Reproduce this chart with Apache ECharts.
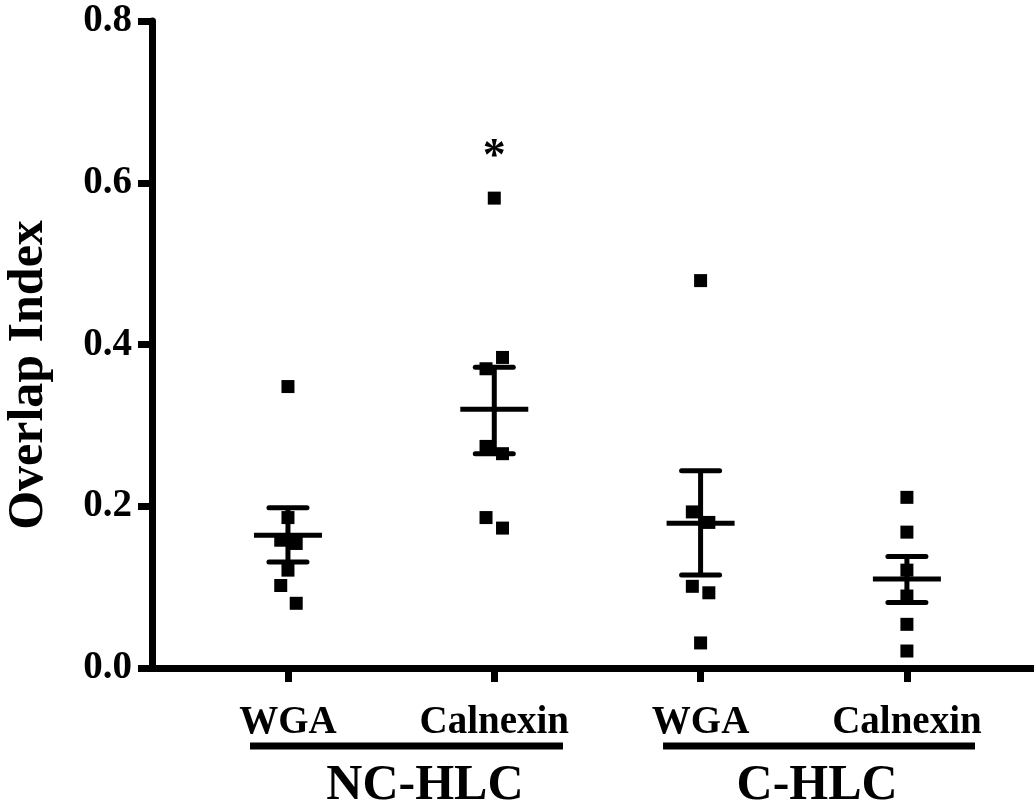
<!DOCTYPE html>
<html>
<head>
<meta charset="utf-8">
<script src="https://cdn.jsdelivr.net/npm/echarts@6/dist/echarts.min.js"></script>
<style>html,body{margin:0;padding:0;background:#fff}#c{width:1034px;height:800px}</style>
</head>
<body>
<div id="c"></div>
<script>
// ---- data ----
const categories = ['WGA', 'Calnexin', 'WGA', 'Calnexin'];
const yTicks = [0, 0.2, 0.4, 0.6, 0.8];
const ncWgaValues = [0.348, 0.186, 0.158, 0.154, 0.121, 0.102, 0.080];
const ncWgaJitter = [0, 0, -0.035, 0.04, 0, -0.035, 0.04];
const ncCalValues = [0.581, 0.384, 0.370, 0.274, 0.265, 0.186, 0.173];
const ncCalJitter = [0, 0.04, -0.04, -0.04, 0.04, -0.04, 0.04];
const cWgaValues = [0.479, 0.193, 0.180, 0.101, 0.093, 0.031];
const cWgaJitter = [0, -0.04, 0.04, -0.04, 0.04, 0];
const cCalValues = [0.211, 0.168, 0.121, 0.089, 0.054, 0.021];
const cCalJitter = [0, 0, 0, 0, 0, 0];
const means = [0.164, 0.320, 0.179, 0.110];
const errLower = [0.131, 0.265, 0.115, 0.081];
const errUpper = [0.198, 0.372, 0.244, 0.138];
const groupNames = ['NC-HLC', 'C-HLC'];
const groupSpans = [[0.816, 2.333], [2.818, 4.33]];
const groupLabelX = [1.664, 3.565];
const significance = [{ x: 2, y: 0.64, text: '*' }];
const yTitle = 'Overlap Index';

// ---- build ----
const FONT = '"Liberation Serif", "Times New Roman", serif';
const allVals = [ncWgaValues, ncCalValues, cWgaValues, cCalValues];
const allJit = [ncWgaJitter, ncCalJitter, cWgaJitter, cCalJitter];
const scatterData = [];
allVals.forEach((vals, gi) => vals.forEach((v, i) => scatterData.push([gi + 1 + allJit[gi][i], v])));
const errData = means.map((m, i) => [i + 1, m, errLower[i], errUpper[i]]);
const groupData = groupNames.map((g, i) => [groupSpans[i][0], groupSpans[i][1], groupLabelX[i]]);

const chart = echarts.init(document.getElementById('c'));
chart.setOption({
  animation: false,
  backgroundColor: '#fff',
  grid: { left: 152, right: 0, top: 21, bottom: 132, containLabel: false, outerBoundsMode: 'none' },
  graphic: [{
    type: 'text', x: 29, y: 375, rotation: Math.PI / 2,
    style: { text: yTitle, fill: '#000', font: 'bold 50px ' + FONT, align: 'center', verticalAlign: 'middle' }
  }],
  xAxis: {
    type: 'value', min: 0.341, max: 4.616,
    splitLine: { show: false },
    axisLine: { show: true, onZero: false, lineStyle: { color: '#000', width: 7 } },
    axisTick: { show: true, customValues: [1, 2, 3, 4], length: 14, lineStyle: { color: '#000', width: 7 } },
    axisLabel: {
      show: true, customValues: [1, 2, 3, 4], margin: 35,
      formatter: v => categories[Math.round(v) - 1],
      color: '#000', fontFamily: FONT, fontWeight: 'bold', fontSize: 39
    }
  },
  yAxis: {
    type: 'value', min: 0, max: 0.8, interval: 0.2,
    splitLine: { show: false },
    axisLine: { show: true, lineStyle: { color: '#000', width: 7 } },
    axisTick: { show: true, length: 14, lineStyle: { color: '#000', width: 7 } },
    axisLabel: {
      margin: 20, color: '#000', fontFamily: FONT, fontWeight: 'bold', fontSize: 39,
      formatter: v => v.toFixed(1)
    }
  },
  series: [
    {
      type: 'scatter', data: scatterData, symbol: 'rect', symbolSize: 13,
      itemStyle: { color: '#000', opacity: 1 }, z: 3
    },
    {
      type: 'custom', data: errData, z: 4, clip: false,
      renderItem: function (params, api) {
        const x = api.value(0);
        const pm = api.coord([x, api.value(1)]);
        const pl = api.coord([x, api.value(2)]);
        const ph = api.coord([x, api.value(3)]);
        const st = { stroke: '#000', lineWidth: 5, lineCap: 'round' };
        return {
          type: 'group', children: [
            { type: 'line', shape: { x1: pl[0], y1: pl[1], x2: ph[0], y2: ph[1] }, style: { stroke: '#000', lineWidth: 5 } },
            { type: 'line', shape: { x1: pl[0] - 19, y1: pl[1], x2: pl[0] + 19, y2: pl[1] }, style: st },
            { type: 'line', shape: { x1: ph[0] - 19, y1: ph[1], x2: ph[0] + 19, y2: ph[1] }, style: st },
            { type: 'line', shape: { x1: pm[0] - 34, y1: pm[1], x2: pm[0] + 34, y2: pm[1] }, style: { stroke: '#000', lineWidth: 5 } }
          ]
        };
      }
    },
    {
      type: 'custom', data: groupData, z: 5, clip: false,
      renderItem: function (params, api) {
        const a = api.coord([api.value(0), 0]);
        const b = api.coord([api.value(1), 0]);
        const t = api.coord([api.value(2), 0]);
        return {
          type: 'group', children: [
            { type: 'line', shape: { x1: a[0], y1: a[1] + 78, x2: b[0], y2: b[1] + 78 }, style: { stroke: '#000', lineWidth: 7 } },
            { type: 'text', x: t[0], y: t[1] + 118, style: { text: groupNames[params.dataIndex], fill: '#000', font: 'bold 50px ' + FONT, align: 'center', verticalAlign: 'middle' } }
          ]
        };
      }
    },
    {
      type: 'custom', data: significance.map(s => [s.x, s.y]), z: 5, clip: false,
      renderItem: function (params, api) {
        const p = api.coord([api.value(0), api.value(1)]);
        return { type: 'text', x: p[0], y: p[1] + 8, style: { text: significance[params.dataIndex].text, fill: '#000', font: 'bold 46px ' + FONT, align: 'center', verticalAlign: 'middle' } };
      }
    }
  ]
});
</script>
</body>
</html>
